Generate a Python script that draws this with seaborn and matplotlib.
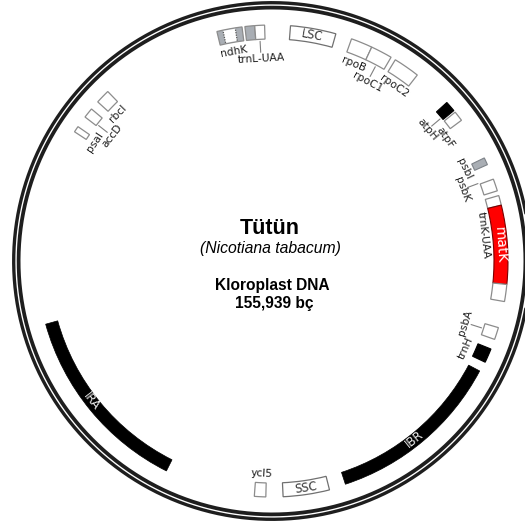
import numpy as np
import matplotlib
matplotlib.use("Agg")
import matplotlib.pyplot as plt
import seaborn as sns

sns.set_theme(style="white")
plt.rcParams["font.family"] = ["DejaVu Sans"]

# ---- map data (compass degrees, clockwise from the top) ----
gene_names = ["ndhK", "trnL-UAA", "LSC", "rpoB", "rpoC1", "rpoC2", "atpH", "atpF",
              "psbI", "psbK", "trnK-UAA", "matK", "trnK-UAA", "psbA", "trnH",
              "SSC", "ycl5", "psaI", "accD", "rbcI"]
gene_start = [-13.5, -6.6, 4.5, 19.7, 25.0, 31.5, 47.8, 50.9,
              64.1, 69.7, 73.9, 76.3, 95.7, 106.4, 111.9,
              165.9, 181.5, -56.8, -52.4, -47.6]
gene_end = [-7.3, -1.8, 15.7, 25.0, 30.3, 38.0, 50.4, 53.4,
            65.9, 72.7, 76.3, 95.7, 99.9, 109.4, 115.4,
            177.3, 184.3, -55.3, -49.9, -44.1]
gene_kind = ["split", "half", "region", "open", "open", "open", "black", "open",
             "gray", "open", "open", "red", "open", "open", "black",
             "region", "open", "open", "open", "open"]

repeat_names = ["IBR", "IRA"]
repeat_start = [117.9, 206.7]
repeat_end = [161.8, 254.4]

label_text = ["ndhK", "trnL-UAA", "rpoB", "rpoC1", "rpoC2", "atpH", "atpF", "psbI",
              "psbK", "trnK-UAA", "psbA", "trnH", "ycl5", "psaI", "accD", "rbcI"]
label_deg = [-10.3, -3.1, 22.6, 28.0, 35.0, 49.8, 54.6, 64.5,
             69.4, 83.1, 107.7, 114.3, 182.7, -56.1, -52.0, -46.2]
label_leader = [False, True, False, True, False, True, False, False,
                True, False, True, False, False, False, True, False]

title = "Tütün"
species = "(Nicotiana tabacum)"
subtitle = "Kloroplast DNA"
size_text = "155,939 bç"

# ---- figure geometry: polar axes whose radius unit is one pixel ----
W = 525
CX, CY, RMAX = 272, 261, 264
fig = plt.figure(figsize=(W / 100, W / 100), dpi=100)
fig.patch.set_facecolor("white")
ax = fig.add_axes([(CX - RMAX) / W, (W - CY - RMAX) / W, 2 * RMAX / W, 2 * RMAX / W],
                  projection="polar")
ax.set_theta_zero_location("N")
ax.set_theta_direction(-1)
ax.set_ylim(0, RMAX)
ax.set_axis_off()

R_IN, R_H = 222, 14
EDGE = "#8c8c8c"
GRAY = "#a9aeb4"
INK = "#1c1c1c"


def rot(phi):
    p = (phi + 180) % 360 - 180
    return -p if -90 <= p <= 90 else 180 - p


def arc(a0, a1, r0=R_IN, h=R_H, **kw):
    mid = np.deg2rad((a0 + a1) / 2)
    return ax.bar(mid, h, width=np.deg2rad(a1 - a0), bottom=r0, align="center", **kw)


# chromosome ring: two dark strokes with a thin light gap
th = np.linspace(0, 2 * np.pi, 1000)
ax.plot(th, np.full_like(th, 253.4), color="#1e1e1e", lw=2.7, solid_capstyle="butt")
ax.plot(th, np.full_like(th, 258.3), color="#1e1e1e", lw=2.4, solid_capstyle="butt")

# inverted repeats
for name, a0, a1 in zip(repeat_names, repeat_start, repeat_end):
    arc(a0, a1, r0=R_IN + 0.5, h=R_H - 1.5, color="black", edgecolor="black", linewidth=0.5)
    mid = (a0 + a1) / 2
    ax.text(np.deg2rad(mid + 1.5), R_IN + 6.3, name, color="#eeeeee", fontsize=8.5,
            rotation=rot(mid + 1.5), rotation_mode="anchor", ha="center", va="center")

# genes and regions
for name, a0, a1, kind in zip(gene_names, gene_start, gene_end, gene_kind):
    if kind == "black":
        arc(a0, a1, color="black", edgecolor="black", linewidth=0.8)
    elif kind == "gray":
        arc(a0, a1, color=GRAY, edgecolor="#7d8288", linewidth=0.8)
    elif kind == "red":
        arc(a0, a1, color="#ff0000", edgecolor="#7a0000", linewidth=0.8)
        mid = (a0 + a1) / 2
        ax.text(np.deg2rad(mid), R_IN + R_H / 2, name, color="white", fontsize=10,
                rotation=rot(mid), rotation_mode="anchor", ha="center", va="center")
    elif kind == "half":
        m = (a0 + a1) / 2
        arc(a0, m, color=GRAY, edgecolor=EDGE, linewidth=0.9)
        arc(m, a1, color="white", edgecolor=EDGE, linewidth=0.9)
    elif kind == "split":
        arc(a0, a1, color=GRAY, edgecolor=EDGE, linewidth=0.9)
        s0 = a0 + 0.24 * (a1 - a0)
        s1 = a0 + 0.73 * (a1 - a0)
        arc(s0, s1, r0=R_IN + 0.8, h=R_H - 1.6, color="white", linewidth=0)
        for s in (s0, s1):
            ax.plot([np.deg2rad(s)] * 2, [R_IN + 1, R_IN + R_H - 1], color="#555555",
                    lw=0.9, ls=(0, (1, 1)))
    elif kind == "region":
        arc(a0, a1, color="white", edgecolor="#707070", linewidth=0.9)
        mid = (a0 + a1) / 2
        ax.text(np.deg2rad(mid), R_IN + R_H / 2, name, color="#333333", fontsize=8.3,
                rotation=rot(mid), rotation_mode="anchor", ha="center", va="center")
    else:
        arc(a0, a1, color="white", edgecolor=EDGE, linewidth=0.9)

# gene labels, alternating between two rings; the inner ones get a short tick
for text, deg, lead in zip(label_text, label_deg, label_leader):
    r = 203 if lead else 213
    if lead:
        ax.plot([np.deg2rad(deg)] * 2, [R_IN - 2, 209], color="#808080", lw=0.8)
    ax.text(np.deg2rad(deg), r, text, color=INK, fontsize=7.7,
            rotation=rot(deg), rotation_mode="anchor", ha="center", va="center")

# centre titles
sans = ["Liberation Sans", "DejaVu Sans"]
fig.text(270 / W, 1 - 228 / W, title, ha="center", va="center", fontsize=15.5,
         fontweight="bold", family=sans, color="black")
fig.text(270 / W, 1 - 248.5 / W, species, ha="center", va="center", fontsize=11.3,
         style="italic", family=sans, color="black")
fig.text(272 / W, 1 - 285.5 / W, subtitle, ha="center", va="center", fontsize=11.2,
         fontweight="bold", family=sans, color="black")
fig.text(274 / W, 1 - 303.5 / W, size_text, ha="center", va="center", fontsize=11.2,
         fontweight="bold", family=sans, color="black")

fig.savefig("out.png", dpi=100, facecolor="white")
